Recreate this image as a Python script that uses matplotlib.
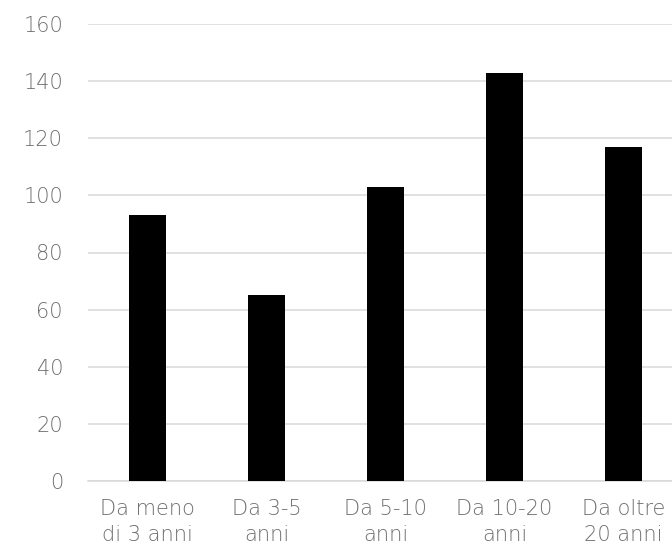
import matplotlib
matplotlib.use("Agg")
import matplotlib.pyplot as plt

categories = ["Da meno\ndi 3 anni", "Da 3-5\nanni", "Da 5-10\nanni", "Da 10-20\nanni", "Da oltre\n20 anni"]
values = [93, 65, 103, 143, 117]
y_ticks = [0, 20, 40, 60, 80, 100, 120, 140, 160]

plt.rcParams['font.family'] = ['DejaVu Sans']

fig = plt.figure(figsize=(6.72, 5.51), dpi=100)
ax = fig.add_axes([88 / 672, 70 / 551, 595 / 672, 457 / 551])

x = list(range(len(categories)))
ax.bar(x, values, width=0.31, color="black", zorder=3)

ax.set_xlim(-0.5, len(categories) - 0.5)
ax.set_ylim(0, 160)
ax.set_yticks(y_ticks)
ax.set_xticks(x)
ax.set_xticklabels(categories, linespacing=1.4)

ax.yaxis.grid(True, color="#d9d9d9", linewidth=1.1, zorder=0)
ax.set_axisbelow(True)
for side in ["top", "right", "left"]:
    ax.spines[side].set_visible(False)
ax.spines["bottom"].set_color("#d9d9d9")
ax.spines["bottom"].set_linewidth(1.1)

ax.tick_params(axis="both", length=0, labelsize=15, labelcolor="#6e6e6e")
ax.tick_params(axis="y", pad=18)
ax.tick_params(axis="x", pad=13)
for lbl in ax.get_xticklabels() + ax.get_yticklabels():
    lbl.set_fontweight(200)

fig.savefig("out.png", dpi=100)
